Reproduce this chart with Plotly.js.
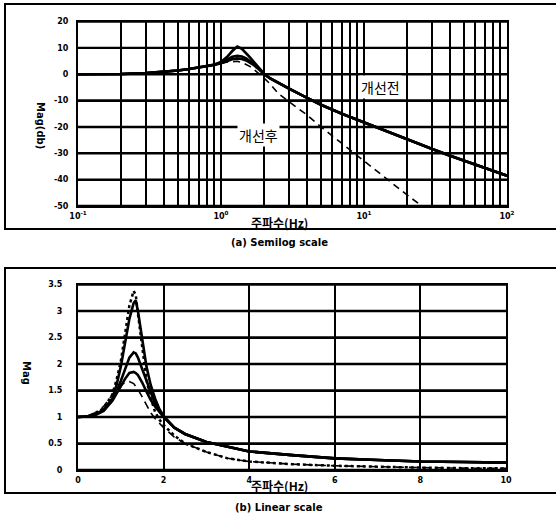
<!DOCTYPE html>
<html>
<head>
<meta charset="utf-8">
<script src="https://cdn.plot.ly/plotly-3.0.1.min.js"></script>
<style>html,body{margin:0;padding:0;background:#fff;}#chart{width:556px;height:517px;}</style>
</head>
<body>
<div id="chart"></div>
<script>
// ---- Top panel (semilog, dB) ----
const freqLog = [0.1,0.15,0.2,0.3,0.4,0.5,0.6,0.7,0.8,0.9,1.0,1.1,1.2,1.3,1.4,1.5,1.6,1.7,1.8,2.0,2.2,2.5,3,4,5,7,10,15,20,30,40,50,70,100];
const magDbSolid1 = [0,0,0.1,0.4,0.9,1.4,2.0,2.6,3.1,3.7,4.6,6.5,8.8,10.5,9.6,8.0,6.3,4.6,3.0,0.2,-1.5,-3.2,-5.5,-9,-11.6,-15,-18.3,-22.2,-24.6,-28.4,-30.9,-32.8,-35.7,-38.5];
const magDbSolid2 = [0,0,0.1,0.4,0.9,1.4,2.0,2.6,3.1,3.6,4.4,5.6,6.6,7.0,6.7,6.0,5.0,3.9,2.7,0.2,-1.5,-3.2,-5.5,-9,-11.6,-15,-18.3,-22.2,-24.6,-28.4,-30.9,-32.8,-35.7,-38.5];
const magDbSolid3 = [0,0,0.1,0.4,0.9,1.4,2.0,2.5,3.0,3.5,4.2,5.0,5.7,6.0,5.8,5.2,4.4,3.4,2.3,0,-1.6,-3.3,-5.6,-9,-11.6,-15,-18.3,-22.2,-24.6,-28.4,-30.9,-32.8,-35.7,-38.5];
const freqLogDash = [0.1,0.15,0.2,0.3,0.4,0.5,0.6,0.7,0.8,0.9,1.0,1.1,1.2,1.3,1.4,1.5,1.6,1.7,1.8,2.0,2.2,2.5,3,4,5,7,10,15,20,30];
const magDbDash = [0,0,0.1,0.4,0.9,1.4,1.9,2.5,3.0,3.5,4.0,4.6,4.9,4.9,4.5,3.8,2.9,1.8,0.7,-1.5,-3.6,-7.2,-10.5,-15.5,-20,-26.3,-33,-40.5,-45.8,-53];
const logTickVals = [0.1,1,10,100];
const logTickText = ['10<sup>-1</sup>','10<sup>0</sup>','10<sup>1</sup>','10<sup>2</sup>'];
const dbTickVals = [20,10,0,-10,-20,-30,-40,-50];
const dbTickText = ['20','10','0','-10','-20','-30','-40','-50'];

// ---- Bottom panel (linear) ----
const freqLin = [0,0.2,0.4,0.6,0.8,0.9,1.0,1.1,1.2,1.3,1.35,1.4,1.5,1.6,1.7,1.8,1.9,2.0,2.25,2.5,3,3.5,4,5,6,7,8,9,10];
const magA = [1.0,1.01,1.05,1.14,1.35,1.6,1.95,2.4,2.85,3.15,3.2,3.0,2.45,1.95,1.6,1.35,1.15,1.02,0.8,0.68,0.53,0.44,0.35,0.28,0.22,0.19,0.16,0.15,0.14];
const magB = [1.0,1.01,1.06,1.17,1.42,1.7,2.05,2.6,3.1,3.38,3.3,2.95,2.3,1.7,1.35,1.1,0.95,0.85,0.65,0.5,0.34,0.22,0.16,0.11,0.08,0.06,0.045,0.035,0.03];
const magC = [1.0,1.01,1.04,1.12,1.32,1.48,1.68,1.9,2.12,2.22,2.2,2.12,1.9,1.65,1.43,1.25,1.11,1.0,0.8,0.68,0.53,0.44,0.35,0.28,0.22,0.19,0.16,0.15,0.14];
const magD = [1.0,1.01,1.04,1.12,1.3,1.43,1.58,1.72,1.83,1.85,1.83,1.79,1.65,1.48,1.32,1.2,1.09,1.0,0.8,0.68,0.53,0.44,0.35,0.28,0.22,0.19,0.16,0.15,0.14];
const magE = [1.0,1.02,1.08,1.2,1.42,1.52,1.6,1.65,1.67,1.63,1.58,1.52,1.38,1.22,1.08,0.97,0.88,0.8,0.62,0.5,0.34,0.22,0.16,0.11,0.08,0.06,0.045,0.035,0.03];
const linTickVals = [0,0.5,1,1.5,2,2.5,3,3.5];
const linTickText = ['0','0.5','1','1.5','2','2.5','3','3.5'];
const linXTickVals = [0,2,4,6,8,10];
const linXTickText = ['0','2','4','6','8','10'];

const W = 556, H = 517;
const px = x => x / W;
const py = y => 1 - y / H;

const minorLog = [];
[0.1, 1, 10].forEach(d => { for (let k = 2; k <= 9; k++) minorLog.push(d * k); });

const solid = {color: '#000', width: 2.6};
const traces = [
  {x: freqLog, y: magDbSolid1, xaxis: 'x', yaxis: 'y', mode: 'lines', line: solid},
  {x: freqLog, y: magDbSolid2, xaxis: 'x', yaxis: 'y', mode: 'lines', line: solid},
  {x: freqLog, y: magDbSolid3, xaxis: 'x', yaxis: 'y', mode: 'lines', line: solid},
  {x: freqLogDash, y: magDbDash, xaxis: 'x', yaxis: 'y', mode: 'lines', line: {color: '#000', width: 1.6, dash: '7px,5px'}},
  {x: freqLin, y: magA, xaxis: 'x2', yaxis: 'y2', mode: 'lines', line: solid},
  {x: freqLin, y: magB, xaxis: 'x2', yaxis: 'y2', mode: 'lines', line: {color: '#000', width: 2.5, dash: '3px,3px'}},
  {x: freqLin, y: magC, xaxis: 'x2', yaxis: 'y2', mode: 'lines', line: solid},
  {x: freqLin, y: magD, xaxis: 'x2', yaxis: 'y2', mode: 'lines', line: solid},
  {x: freqLin, y: magE, xaxis: 'x2', yaxis: 'y2', mode: 'lines', line: {color: '#000', width: 1.6, dash: '8px,5px'}}
];

const tickFont = {family: 'DejaVu Sans', size: 8, color: '#000', weight: 'bold'};
const axisCommon = {showgrid: true, gridcolor: '#000000', gridwidth: 2, showline: true, mirror: true, linecolor: '#000', linewidth: 2, zeroline: false, tickfont: tickFont};

// horizontal grid lines placed with the y scales
const hGrid = [];
dbTickVals.forEach(v => hGrid.push({type: 'line', xref: 'paper', yref: 'y', x0: px(78), x1: px(507), y0: v, y1: v, layer: 'below', line: {color: '#000', width: 2.4}}));
linTickVals.forEach(v => hGrid.push({type: 'line', xref: 'paper', yref: 'y2', x0: px(78), x1: px(506), y0: v, y1: v, layer: 'below', line: {color: '#000', width: 2.4}}));

function note(x, y, text, font, extra) {
  return Object.assign({xref: 'paper', yref: 'paper', x: px(x), y: py(y), xanchor: 'center', yanchor: 'middle', text: text, showarrow: false, font: font}, extra || {});
}
const titleFont = {family: 'Noto Sans CJK KR', size: 12, color: '#000', weight: 'bold'};
const labelFont = {family: 'DejaVu Sans', size: 10, color: '#000', weight: 'bold'};
const koFont = {family: 'Noto Sans CJK KR', size: 14, color: '#000'};

const layout = {
  width: W, height: H,
  margin: {l: 0, r: 0, t: 0, b: 0},
  paper_bgcolor: '#fff', plot_bgcolor: 'rgba(255,255,255,0)',
  showlegend: false,
  xaxis: Object.assign({}, axisCommon, {
    type: 'log', range: [-1, 2], domain: [px(78), px(507)], anchor: 'y',
    tickmode: 'array', tickvals: logTickVals, ticktext: logTickText,
    ticks: 'outside', ticklen: 1, tickcolor: 'rgba(0,0,0,0)',
    minor: {tickmode: 'array', tickvals: minorLog, showgrid: true, gridcolor: '#000000', gridwidth: 2, ticks: ''}
  }),
  yaxis: Object.assign({}, axisCommon, {
    range: [-50, 20], domain: [py(206), py(21.5)], anchor: 'x',
    tickmode: 'array', tickvals: dbTickVals, ticktext: dbTickText,
    ticks: 'outside', ticklen: 6, tickcolor: 'rgba(0,0,0,0)'
  }),
  xaxis2: Object.assign({}, axisCommon, {
    range: [0, 10], tickmode: 'array', tickvals: linXTickVals, ticktext: linXTickText,
    domain: [px(78), px(506)], anchor: 'y2',
    ticks: 'outside', ticklen: 1, tickcolor: 'rgba(0,0,0,0)'
  }),
  yaxis2: Object.assign({}, axisCommon, {
    range: [0, 3.5], tickmode: 'array', tickvals: linTickVals, ticktext: linTickText,
    domain: [py(470), py(284.5)], anchor: 'x2',
    ticks: 'outside', ticklen: 12, tickcolor: 'rgba(0,0,0,0)'
  }),
  shapes: hGrid.concat([
    {type: 'rect', xref: 'paper', yref: 'paper', x0: px(5), x1: px(570), y0: py(229), y1: py(4), line: {color: '#000', width: 2}},
    {type: 'rect', xref: 'paper', yref: 'paper', x0: px(5), x1: px(570), y0: py(493), y1: py(268), line: {color: '#000', width: 2}}
  ]),
  annotations: [
    note(279, 222, '주파수(Hz)', titleFont),
    note(279, 485, '주파수(Hz)', titleFont),
    note(40, 125, 'Mag(db)', labelFont, {textangle: 90}),
    note(27, 373, 'Mag', labelFont, {textangle: 90}),
    note(279, 243, '(a) Semilog scale', labelFont),
    note(279, 507, '(b) Linear scale', labelFont),
    note(380, 87, '개선전', koFont, {bgcolor: '#fff'}),
    note(258, 135, '개선후', koFont, {bgcolor: '#fff'})
  ]
};

Plotly.newPlot('chart', traces, layout, {staticPlot: true, displayModeBar: false});
</script>
</body>
</html>
